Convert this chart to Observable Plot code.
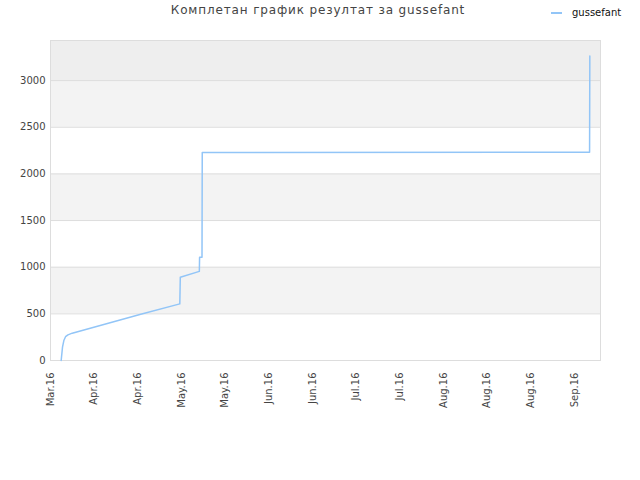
<!DOCTYPE html>
<html>
<head>
<meta charset="utf-8">
<script src="https://cdn.jsdelivr.net/npm/d3@7"></script>
<script src="https://cdn.jsdelivr.net/npm/@observablehq/plot@0.6"></script>
<style>
  html, body { margin: 0; padding: 0; background: #fff; }
  #wrap { position: relative; width: 640px; height: 480px; font-family: "DejaVu Sans", sans-serif; }
  #title { position: absolute; left: 0; width: 636px; top: 3px; text-align: center; font-size: 12px; letter-spacing: 0.85px; color: #444; }
  #legend { position: absolute; left: 551px; top: 7px; font-size: 10px; color: #111; display: flex; align-items: center; }
  #legend .sw { width: 11px; height: 2px; background: #92c5f7; margin-right: 10px; }
  #chart { position: absolute; left: 0; top: 0; }
</style>
</head>
<body>
<div id="wrap">
  <div id="chart"></div>
  <div id="title">Комплетан график резултат за gussefant</div>
  <div id="legend"><span class="sw"></span><span>gussefant</span></div>
</div>
<script>
const seriesName = "gussefant";
const dates = [
  "2016-03-22T16:00Z", "2016-03-23T03:00Z", "2016-03-23T14:00Z", "2016-03-24T04:00Z",
  "2016-03-25T00:00Z", "2016-03-26T11:00Z", "2016-04-19T00:00Z", "2016-05-02T10:00Z",
  "2016-05-02T14:00Z", "2016-05-09T03:00Z", "2016-05-09T05:00Z", "2016-05-10T01:00Z",
  "2016-05-10T03:00Z", "2016-09-20T04:00Z", "2016-09-20T06:00Z"
];
const scores = [0, 143, 214, 255, 275, 293, 495, 607, 893, 955, 1107, 1107, 2230, 2232, 3265];
const tickDates = [
  "2016-03-19", "2016-04-03", "2016-04-18", "2016-05-03", "2016-05-18", "2016-06-02",
  "2016-06-17", "2016-07-02", "2016-07-17", "2016-08-01", "2016-08-16", "2016-08-31", "2016-09-15"
];
const xDomain = ["2016-03-19T00:00Z", "2016-09-23T22:00Z"];
const yDomain = [0, 3430];
const yTicks = [0, 500, 1000, 1500, 2000, 2500, 3000];
const gridLines = [500, 1000, 1500, 2000, 2500, 3000];
const shadedBands = [[500, 1000], [1500, 2000], [2500, 3000]];
const topBand = [[3000, 3430]];

const data = dates.map((d, i) => ({date: d3.isoParse(d), score: scores[i]}));
const ticks = tickDates.map(d => d3.isoParse(d + "T00:00Z"));

const chart = Plot.plot({
  width: 640,
  height: 480,
  marginLeft: 50,
  marginRight: 40,
  marginTop: 40,
  marginBottom: 120,
  style: {fontFamily: "DejaVu Sans, sans-serif", background: "#fff"},
  x: {type: "utc", domain: xDomain.map(d => d3.isoParse(d))},
  y: {domain: yDomain},
  marks: [
    Plot.rect(shadedBands, {y1: d => d[0], y2: d => d[1], fill: "#f3f3f3"}),
    Plot.rect(topBand, {y1: d => d[0], y2: d => d[1], fill: "#eeeeee"}),
    Plot.ruleY(gridLines, {stroke: "#dddddd"}),
    Plot.frame({stroke: "#dddddd"}),
    Plot.axisY({ticks: yTicks, tickFormat: d3.format("d"), tickSize: 0, tickPadding: 5, label: null, fontSize: 10, fill: "#444"}),
    Plot.axisX({ticks: ticks, tickFormat: d3.utcFormat("%b.%y"), tickRotate: -90, tickSize: 0, tickPadding: 12, label: null, fontSize: 10, fill: "#444"}),
    Plot.line(data, {x: "date", y: "score", stroke: "#92c5f7", strokeWidth: 1.5})
  ]
});
document.getElementById("chart").appendChild(chart);
</script>
</body>
</html>
